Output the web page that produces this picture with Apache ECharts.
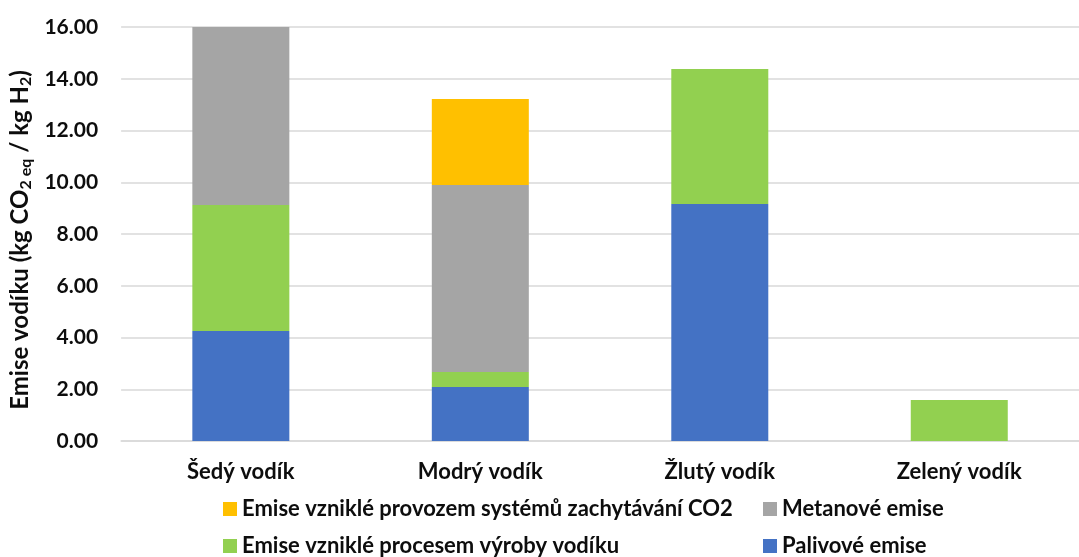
<!DOCTYPE html>
<html><head><meta charset="utf-8">
<script src="https://cdn.jsdelivr.net/npm/echarts@6/dist/echarts.min.js"></script>
<style>html,body{margin:0;padding:0;background:#fff}#c{width:1079px;height:557px}</style>
</head><body><div id="c"></div>
<script>
const categories = ['Šedý vodík', 'Modrý vodík', 'Žlutý vodík', 'Zelený vodík'];
const palivove = [4.25, 2.09, 9.16, 0];
const procesem = [4.87, 0.58, 5.22, 1.58];
const metanove = [6.88, 7.22, 0, 0];
const zachytavani = [0, 3.33, 0, 0];
const seriesNames = ['Palivové emise', 'Emise vzniklé procesem výroby vodíku', 'Metanové emise', 'Emise vzniklé provozem systémů zachytávání CO2'];
const colors = ['#4472C4', '#92D050', '#A5A5A5', '#FFC000'];
const FONT = 'Lato';
const chart = echarts.init(document.getElementById('c'));
const vals = [palivove, procesem, metanove, zachytavani];
const legendText = { color: '#0d0d0d', fontFamily: FONT, fontWeight: 'bold', fontSize: 22, lineHeight: 22 };
function lg(name, left, top) {
  return { left: left, top: top, itemWidth: 14, itemHeight: 14, icon: 'rect', padding: 0,
    data: [name], textStyle: legendText };
}
chart.setOption({
  animation: false,
  grid: { left: 121, top: 27, width: 968, height: 414, containLabel: false },
  xAxis: {
    type: 'category', data: categories,
    axisLine: { show: true, lineStyle: { color: '#D9D9D9', width: 1.5 } },
    axisTick: { show: false },
    axisLabel: { color: '#0d0d0d', fontFamily: FONT, fontWeight: 'bold', fontSize: 22, lineHeight: 22, margin: 20 }
  },
  yAxis: {
    type: 'value', min: 0, max: 16, interval: 2,
    axisLine: { show: false }, axisTick: { show: false },
    splitLine: { lineStyle: { color: '#D9D9D9', width: 1.5 } },
    axisLabel: { color: '#0d0d0d', fontFamily: FONT, fontWeight: 'bold', fontSize: 21, margin: 23,
      formatter: v => v.toFixed(2) },
    name: '{m|Emise vodíku (kg CO}{s|2 eq}{m| / kg H}{s|2}{m|)}',
    nameLocation: 'middle', nameGap: 86,
    nameTextStyle: {
      padding: [0, 12, 0, 0],
      rich: {
        m: { fontFamily: FONT, fontWeight: 'bold', fontSize: 24, color: '#0d0d0d' },
        s: { fontFamily: FONT, fontWeight: 'bold', fontSize: 16, color: '#0d0d0d', padding: [11, 0, 0, 0] }
      }
    }
  },
  legend: [
    lg(seriesNames[3], 223, 498),
    lg(seriesNames[2], 763, 498),
    lg(seriesNames[1], 223, 535),
    lg(seriesNames[0], 763, 535)
  ],
  series: vals.map((d, i) => ({
    name: seriesNames[i], type: 'bar', stack: 'total', barWidth: 97,
    itemStyle: { color: colors[i] },
    data: d.map(v => v === 0 ? null : v)
  }))
});
</script></body></html>
